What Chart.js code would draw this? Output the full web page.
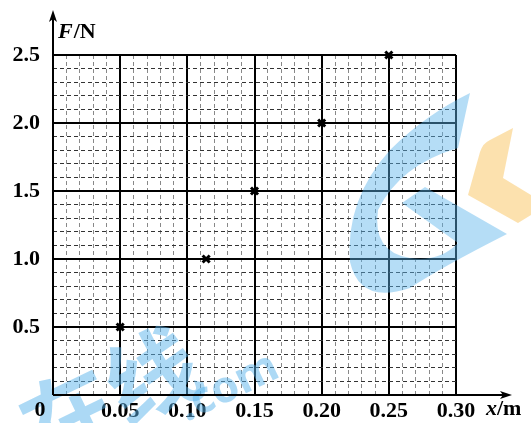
<!DOCTYPE html>
<html>
<head>
<meta charset="utf-8">
<script src="https://cdn.jsdelivr.net/npm/chart.js@4.4.1/dist/chart.umd.min.js"></script>
<style>
  body { margin: 0; background: #fff; }
  canvas { display: block; }
</style>
</head>
<body>
<canvas id="springChart" width="531" height="423"></canvas>
<script>
// Data
const xValues = [0.05, 0.114, 0.15, 0.20, 0.25];   // x / m
const fValues = [0.5, 1.0, 1.5, 2.0, 2.5];         // F / N
const xLabels = ['0.05', '0.10', '0.15', '0.20', '0.25', '0.30'];
const yLabels = ['0.5', '1.0', '1.5', '2.0', '2.5'];

const FONT = "'Liberation Serif', 'Times New Roman', serif";

// is this tick one of the thick (major) lines?
function isMajor(ctx) {
    return ctx.index % 5 === 0;
}

/**
 * Arrows, axis titles, origin "0" and the watermark
 */
const extras = {
    id: 'extras',
    beforeDatasetsDraw(chart) {
        const c = chart.ctx;
        const x = chart.scales.x, y = chart.scales.y;
        const x0 = x.getPixelForValue(0), y0 = y.getPixelForValue(0);

        c.save();
        // watermark, light and see-through
        c.fillStyle = 'rgba(90, 180, 235, 0.45)';
        c.beginPath();
        c.moveTo(470, 93);
        c.lineTo(458, 148);
        c.quadraticCurveTo(400, 165, 378, 210);
        c.quadraticCurveTo(372, 252, 410, 258);
        c.quadraticCurveTo(440, 262, 458, 243);
        c.lineTo(402, 203);
        c.lineTo(425, 187);
        c.lineTo(507, 234);
        c.quadraticCurveTo(440, 268, 410, 288);
        c.quadraticCurveTo(360, 305, 350, 262);
        c.quadraticCurveTo(345, 200, 390, 150);
        c.quadraticCurveTo(425, 115, 470, 93);
        c.closePath();
        c.fill();

        c.fillStyle = 'rgba(250, 205, 120, 0.6)';
        c.beginPath();
        c.moveTo(513, 128);
        c.lineTo(503, 178);
        c.lineTo(531, 195);
        c.lineTo(531, 215);
        c.lineTo(518, 223);
        c.lineTo(468, 195);
        c.lineTo(480, 152);
        c.quadraticCurveTo(483, 143, 490, 140);
        c.closePath();
        c.fill();

        c.fillStyle = 'rgba(90, 180, 235, 0.5)';
        c.translate(110, 395);
        c.rotate(-0.45);
        c.textAlign = 'center';
        c.textBaseline = 'middle';
        c.font = "bold 92px 'Noto Sans CJK SC'";
        c.fillText('在线', 0, 0);
        c.font = "bold 44px 'Noto Sans'";
        c.fillText('.com', 110, 45);
        c.restore();

        c.save();
        c.strokeStyle = '#000';
        c.fillStyle = '#000';
        c.lineWidth = 2;
        // y axis with arrow
        c.beginPath();
        c.moveTo(x0, y0);
        c.lineTo(x0, 16);
        c.stroke();
        c.beginPath();
        c.moveTo(x0, 10);
        c.lineTo(x0 - 4, 22);
        c.lineTo(x0, 19);
        c.lineTo(x0 + 4, 22);
        c.closePath();
        c.fill();
        // x axis with arrow
        c.beginPath();
        c.moveTo(x0, y0);
        c.lineTo(506, y0);
        c.stroke();
        c.beginPath();
        c.moveTo(512, y0);
        c.lineTo(500, y0 - 4);
        c.lineTo(503, y0);
        c.lineTo(500, y0 + 4);
        c.closePath();
        c.fill();

        // titles
        c.textBaseline = 'middle';
        c.textAlign = 'left';
        c.font = 'italic bold 22px ' + FONT;
        c.fillText('F', 58, 32);
        let w = c.measureText('F').width;
        c.font = 'bold 22px ' + FONT;
        c.fillText('/N', 58 + w + 1, 32);

        c.font = 'italic bold 22px ' + FONT;
        c.fillText('x', 486, 409);
        w = c.measureText('x').width;
        c.font = 'bold 22px ' + FONT;
        c.fillText('/m', 486 + w, 409);

        c.textAlign = 'center';
        c.fillText('0', 40, 410);
        c.restore();
    }
};

new Chart(document.getElementById('springChart'), {
    type: 'scatter',
    data: {
        datasets: [{
            data: xValues.map((v, i) => ({ x: v, y: fValues[i] })),
            pointStyle: 'crossRot',
            pointRadius: 5,
            pointBorderWidth: 3,
            borderColor: '#000',
            backgroundColor: '#000',
            clip: false
        }]
    },
    options: {
        responsive: false,
        animation: false,
        layout: { padding: { top: 55, right: 75, left: 0, bottom: 0 } },
        plugins: { legend: { display: false }, tooltip: { enabled: false } },
        scales: {
            x: {
                type: 'linear',
                min: 0,
                max: 0.3,
                afterFit: s => { s.height = 28; },
                afterBuildTicks: s => {
                    s.ticks = [];
                    for (let i = 0; i <= 30; i++) s.ticks.push({ value: i / 100 });
                },
                ticks: {
                    autoSkip: false,
                    maxRotation: 0,
                    padding: 3,
                    color: '#000',
                    font: { family: FONT, size: 22, weight: 'bold' },
                    callback: (v, i) => (i % 5 === 0 && i > 0) ? xLabels[i / 5 - 1] : ''
                },
                grid: {
                    drawTicks: false,
                    color: ctx => isMajor(ctx) ? '#000' : '#888',
                    lineWidth: ctx => isMajor(ctx) ? 2 : 1
                },
                border: {
                    display: false,
                    dash: ctx => (ctx.type === 'tick' && !isMajor(ctx)) ? [4, 3] : []
                }
            },
            y: {
                type: 'linear',
                min: 0,
                max: 2.5,
                afterFit: s => { s.width = 53; },
                afterBuildTicks: s => {
                    s.ticks = [];
                    for (let i = 0; i <= 25; i++) s.ticks.push({ value: i / 10 });
                },
                ticks: {
                    autoSkip: false,
                    padding: 13,
                    color: '#000',
                    font: { family: FONT, size: 22, weight: 'bold' },
                    callback: (v, i) => (i % 5 === 0 && i > 0) ? yLabels[i / 5 - 1] : ''
                },
                grid: {
                    drawTicks: false,
                    color: ctx => isMajor(ctx) ? '#000' : '#333',
                    lineWidth: ctx => isMajor(ctx) ? 2 : 1
                },
                border: {
                    display: false,
                    dash: ctx => (ctx.type === 'tick' && !isMajor(ctx)) ? [4, 3] : []
                }
            }
        }
    },
    plugins: [extras]
});
</script>
</body>
</html>
